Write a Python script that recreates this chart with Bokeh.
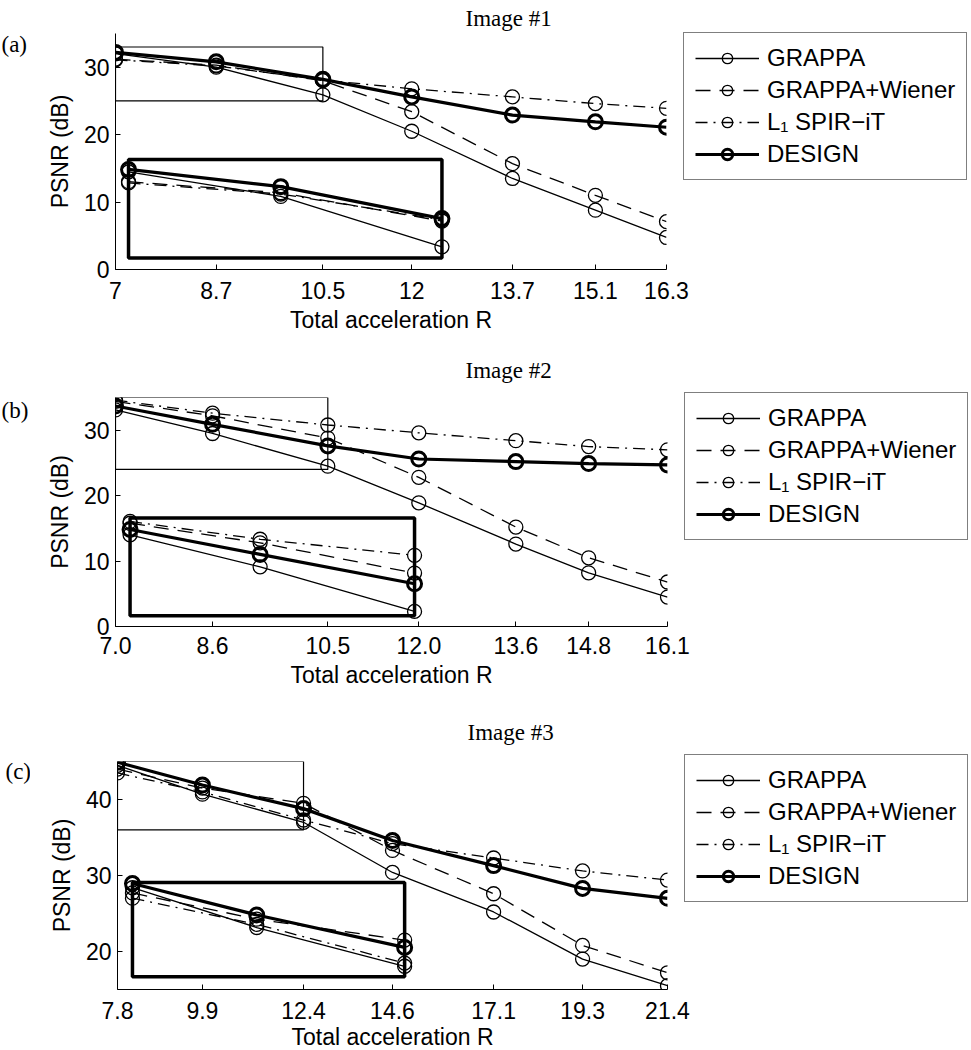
from bokeh.plotting import figure
from bokeh.models import Legend, LegendItem, Title, FixedTicker, Range1d
from bokeh.layouts import column, row
from bokeh.core.properties import value
from bokeh.embed import file_html
from bokeh.resources import INLINE

SANS = "Liberation Sans"
SERIF = "Liberation Serif"

# ---------------- data ----------------
series_names = ["GRAPPA", "GRAPPA+Wiener", "L\u2081 SPIR\u2212iT", "DESIGN"]

# Image #1
x_a = [7, 8.7, 10.5, 12, 13.7, 15.1, 16.3]
xlabels_a = ["7", "8.7", "10.5", "12", "13.7", "15.1", "16.3"]
grappa_a = [32.0, 30.0, 25.9, 20.5, 13.5, 8.8, 4.75]
wiener_a = [31.2, 30.3, 28.0, 23.4, 15.7, 11.0, 7.1]
l1_a = [31.1, 30.2, 28.1, 26.8, 25.6, 24.6, 23.9]
design_a = [32.2, 30.8, 28.2, 25.6, 22.9, 21.9, 21.1]
yticks_a = [0, 10, 20, 30]

# Image #2
x_b = [7.0, 8.6, 10.5, 12.0, 13.6, 14.8, 16.1]
xlabels_b = ["7.0", "8.6", "10.5", "12.0", "13.6", "14.8", "16.1"]
grappa_b = [33.1, 29.5, 24.5, 18.9, 12.6, 8.2, 4.5]
wiener_b = [34.4, 32.2, 28.8, 22.8, 15.2, 10.5, 6.8]
l1_b = [34.6, 32.6, 30.8, 29.6, 28.4, 27.5, 27.0]
design_b = [33.7, 30.9, 27.6, 25.6, 25.2, 24.9, 24.7]
yticks_b = [0, 10, 20, 30]

# Image #3
x_c = [7.8, 9.9, 12.4, 14.6, 17.1, 19.3, 21.4]
xlabels_c = ["7.8", "9.9", "12.4", "14.6", "17.1", "19.3", "21.4"]
grappa_c = [44.5, 40.7, 37.0, 30.4, 25.2, 19.0, 15.5]
wiener_c = [44.0, 41.5, 39.5, 33.3, 27.6, 20.8, 17.2]
l1_c = [43.5, 41.0, 37.3, 34.2, 32.3, 30.6, 29.4]
design_c = [44.9, 41.9, 38.8, 34.6, 31.3, 28.3, 27.0]
yticks_c = [20, 30, 40]

# ---------------- styles ----------------
STYLES = [
    dict(lw=1.3, dash="solid", mlw=1.3, size=14),
    dict(lw=1.3, dash="15 9", mlw=1.3, size=14),
    dict(lw=1.3, dash="12 6 2 6", mlw=1.3, size=14),
    dict(lw=3.2, dash="solid", mlw=3.0, size=14),
]

TAG_W = 30
TOTAL_W = 971


def make_tag(tag, geom, tx, ty):
    left, fw, top, fh, bottom = geom
    t = figure(frame_width=TAG_W, frame_height=fh,
               min_border_left=0, min_border_right=0,
               min_border_top=top, min_border_bottom=bottom,
               x_range=Range1d(0, TAG_W), y_range=Range1d(0, fh),
               x_axis_location=None, y_axis_location=None,
               output_backend="svg", toolbar_location=None)
    t.grid.visible = False
    t.outline_line_color = None
    t.text(x=[tx], y=[ty], text=[tag], text_font=value(SERIF),
           text_font_size="23px", text_align="left",
           text_baseline="alphabetic", text_color="black")
    return t


def make_panel(title, x, xlabels, series, yticks, xr, yr,
               zoom_box, inset_box, geom, legend_loc, tick_so, label_so, title_so):
    left, fw, top, fh, bottom = geom
    p = figure(frame_width=fw, frame_height=fh,
               min_border_left=left - TAG_W,
               min_border_right=TOTAL_W - left - fw,
               min_border_top=top, min_border_bottom=bottom,
               x_range=Range1d(*xr), y_range=Range1d(*yr),
               output_backend="svg", toolbar_location=None)
    p.outline_line_color = None
    p.grid.visible = False

    for ax in (p.xaxis[0], p.yaxis[0]):
        ax.axis_line_color = "black"
        ax.axis_line_width = 1
        ax.major_tick_line_color = "black"
        ax.major_tick_in = 5
        ax.major_tick_out = 0
        ax.minor_tick_line_color = None
        ax.major_label_text_font = SANS
        ax.major_label_text_font_size = "23px"
        ax.major_label_text_color = "black"
        ax.axis_label_text_font = SANS
        ax.axis_label_text_font_size = "23px"
        ax.axis_label_text_font_style = "normal"
        ax.axis_label_text_color = "black"
    p.xaxis.ticker = FixedTicker(ticks=list(x), minor_ticks=[])
    p.xaxis.major_label_overrides = {
        (int(v) if float(v).is_integer() else v): s for v, s in zip(x, xlabels)}
    p.yaxis.ticker = FixedTicker(ticks=list(yticks), minor_ticks=[])
    p.xaxis.axis_label = "Total acceleration R"
    p.yaxis.axis_label = "PSNR (dB)"
    p.xaxis.major_label_standoff = tick_so
    p.xaxis.axis_label_standoff = label_so
    p.yaxis.major_label_standoff = 6
    p.yaxis.axis_label_standoff = 8

    # zoom-region box (thin) and inset frame (thick)
    zx0, zx1, zy0, zy1 = zoom_box
    ix0, ix1, iy0, iy1 = inset_box
    p.quad(left=[zx0], right=[zx1], bottom=[zy0], top=[zy1],
           fill_color=None, line_color="black", line_width=1.2)
    p.quad(left=[ix0], right=[ix1], bottom=[iy0], top=[iy1],
           fill_color=None, line_color="black", line_width=3.5)

    items = []
    for name, ys, st in zip(series_names, series, STYLES):
        lr = p.line(x, ys, line_color="black", line_width=st["lw"], line_dash=st["dash"])
        sr = p.scatter(x, ys, marker="circle", size=st["size"], fill_color=None,
                       line_color="black", line_width=st["mlw"])
        # magnified copy inside the inset
        xi, yi = [], []
        for xv, yv in zip(x, ys):
            if zx0 - 1e-9 <= xv <= zx1 + 1e-9:
                xi.append(ix0 + (xv - zx0) / (zx1 - zx0) * (ix1 - ix0))
                yi.append(iy0 + (yv - zy0) / (zy1 - zy0) * (iy1 - iy0))
        p.line(xi, yi, line_color="black", line_width=st["lw"], line_dash=st["dash"])
        p.scatter(xi, yi, marker="circle", size=st["size"], fill_color=None,
                  line_color="black", line_width=st["mlw"])
        items.append(LegendItem(label=name, renderers=[lr, sr]))

    legend = Legend(items=items, location=legend_loc,
                    label_text_font=SANS, label_text_font_size="24px",
                    label_text_color="black",
                    glyph_width=64, glyph_height=26, label_standoff=8,
                    padding=11, spacing=4, margin=0,
                    border_line_color="black", border_line_width=1,
                    background_fill_color="white", background_fill_alpha=1)
    p.add_layout(legend, "right")

    p.add_layout(Title(text=title, align="left", offset=350, standoff=title_so,
                       text_font=SERIF, text_font_size="23px",
                       text_font_style="normal", text_color="black"), "above")
    return p


# geometry: (frame left, frame width, top border, frame height, bottom border)
geom_a = (115, 551, 33, 236, 69)
geom_b = (115, 552, 59, 229, 65)
geom_c = (117, 550, 70, 228, 61)

pa = make_panel("Image #1", x_a, xlabels_a,
                [grappa_a, wiener_a, l1_a, design_a], yticks_a,
                (7, 16.3), (0, 35),
                (7, 10.5, 25, 33), (7.22, 12.51, 1.72, 16.3),
                geom_a, (17, 89), 12, 5, 6)
pb = make_panel("Image #2", x_b, xlabels_b,
                [grappa_b, wiener_b, l1_b, design_b], yticks_b,
                (7.0, 16.1), (0, 35),
                (7.0, 10.5, 24, 35), (7.24, 11.93, 1.63, 16.6),
                geom_b, (17, 86), 10, 5, 30)
pc = make_panel("Image #3", x_c, xlabels_c,
                [grappa_c, wiener_c, l1_c, design_c], yticks_c,
                (7.8, 21.4), (15, 45),
                (7.8, 12.4, 36, 45), (8.17, 14.9, 16.68, 29.08),
                geom_c, (17, 87), 12, 2, 34)

ta = make_tag("(a)", geom_a, 1, 225)
tb = make_tag("(b)", geom_b, 1, 216)
tc = make_tag("(c)", geom_c, 5, 218.5)

layout = column(row(ta, pa, spacing=0), row(tb, pb, spacing=0),
                row(tc, pc, spacing=0), spacing=0)
open("out.html", "w").write(file_html(layout, INLINE))
